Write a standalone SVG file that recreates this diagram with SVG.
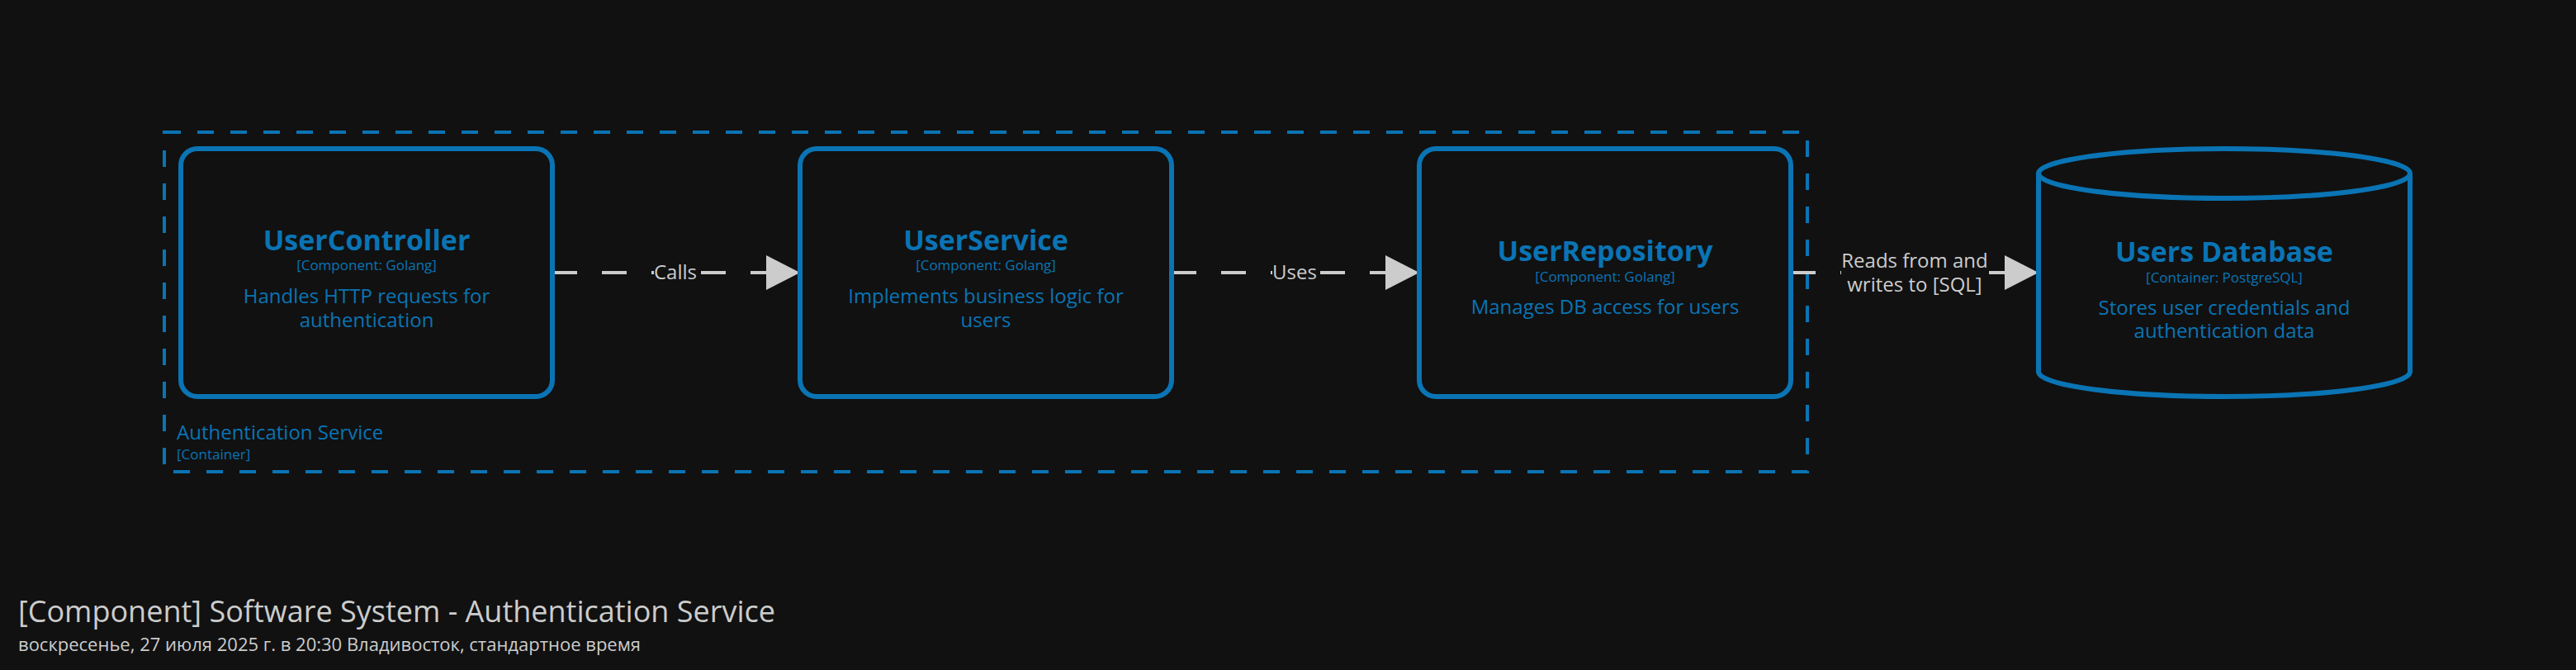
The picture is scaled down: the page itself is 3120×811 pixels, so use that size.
<svg xmlns="http://www.w3.org/2000/svg" width="3120" height="811" viewBox="0 0 3120 811">
<style>
  text { font-family: "Open Sans", "Noto Sans", "Liberation Sans", sans-serif; }
  .box { fill: #111111; stroke: #0a74b4; stroke-width: 6; }
  .name { fill: #0a74b4; font-size: 34px; font-weight: bold; text-anchor: middle; }
  .meta { fill: #0a74b4; font-size: 17px; text-anchor: middle; }
  .desc { fill: #0a74b4; font-size: 24px; text-anchor: middle; }
  .boundary { fill: none; stroke: #0a74b4; stroke-width: 4; stroke-dasharray: 20 20; }
  .blabel { fill: #0a74b4; font-size: 24px; }
  .bmeta { fill: #0a74b4; font-size: 17px; }
  .edge { fill: none; stroke: #cccccc; stroke-width: 4; stroke-dasharray: 30 30; }
  .head { fill: #cccccc; }
  .elabel { fill: #cccccc; font-size: 24px; text-anchor: middle; }
  .lbg { fill: #111111; }
  .title { fill: #cccccc; font-size: 36px; }
  .sub { fill: #cccccc; font-size: 22px; }
</style>
<rect x="0" y="0" width="3120" height="811" fill="#111111"/>

<g id="boundary-authentication-service">
  <rect class="boundary" x="199" y="160" width="1990" height="411"/>
  <text class="blabel" x="214" y="532">Authentication Service</text>
  <text class="bmeta" x="214" y="556">[Container]</text>
</g>

<g id="connectors">
  <line class="edge" x1="669" y1="330" x2="929" y2="330"/>
  <polygon class="head" points="928,309 969,330 928,351"/>
  <rect class="lbg" x="792" y="314" width="52" height="32"/>
  <text class="elabel" x="818" y="338">Calls</text>

  <line class="edge" x1="1419" y1="330" x2="1679" y2="330"/>
  <polygon class="head" points="1678,309 1719,330 1678,351"/>
  <rect class="lbg" x="1541" y="314" width="54" height="32"/>
  <text class="elabel" x="1568" y="338">Uses</text>

  <line class="edge" x1="2169" y1="330" x2="2429" y2="330"/>
  <polygon class="head" points="2428,309 2469,330 2428,351"/>
  <rect class="lbg" x="2230" y="302" width="178" height="58"/>
  <text class="elabel" x="2319" y="324">Reads from and</text>
  <text class="elabel" x="2319" y="353">writes to [SQL]</text>
</g>

<g id="user-controller">
  <rect class="box" x="219" y="180" width="450" height="300" rx="20" ry="20"/>
  <text class="name" x="444" y="303">UserController</text>
  <text class="meta" x="444" y="327">[Component: Golang]</text>
  <text class="desc" x="444" y="367">Handles HTTP requests for</text>
  <text class="desc" x="444" y="396">authentication</text>
</g>

<g id="user-service">
  <rect class="box" x="969" y="180" width="450" height="300" rx="20" ry="20"/>
  <text class="name" x="1194" y="303">UserService</text>
  <text class="meta" x="1194" y="327">[Component: Golang]</text>
  <text class="desc" x="1194" y="367">Implements business logic for</text>
  <text class="desc" x="1194" y="396">users</text>
</g>

<g id="user-repository">
  <rect class="box" x="1719" y="180" width="450" height="300" rx="20" ry="20"/>
  <text class="name" x="1944" y="316">UserRepository</text>
  <text class="meta" x="1944" y="341">[Component: Golang]</text>
  <text class="desc" x="1944" y="380">Manages DB access for users</text>
</g>

<g id="users-database">
  <path class="box" d="M2469,210 L2469,450 A225,30 0 0 0 2919,450 L2919,210"/>
  <ellipse class="box" cx="2694" cy="210" rx="225" ry="30"/>
  <text class="name" x="2694" y="317">Users Database</text>
  <text class="meta" x="2694" y="342">[Container: PostgreSQL]</text>
  <text class="desc" x="2694" y="381">Stores user credentials and</text>
  <text class="desc" x="2694" y="409">authentication data</text>
</g>

<g id="diagram-title">
  <text class="title" x="22" y="753">[Component] Software System - Authentication Service</text>
  <text class="sub" x="22" y="788">воскресенье, 27 июля 2025 г. в 20:30 Владивосток, стандартное время</text>
</g>
</svg>
